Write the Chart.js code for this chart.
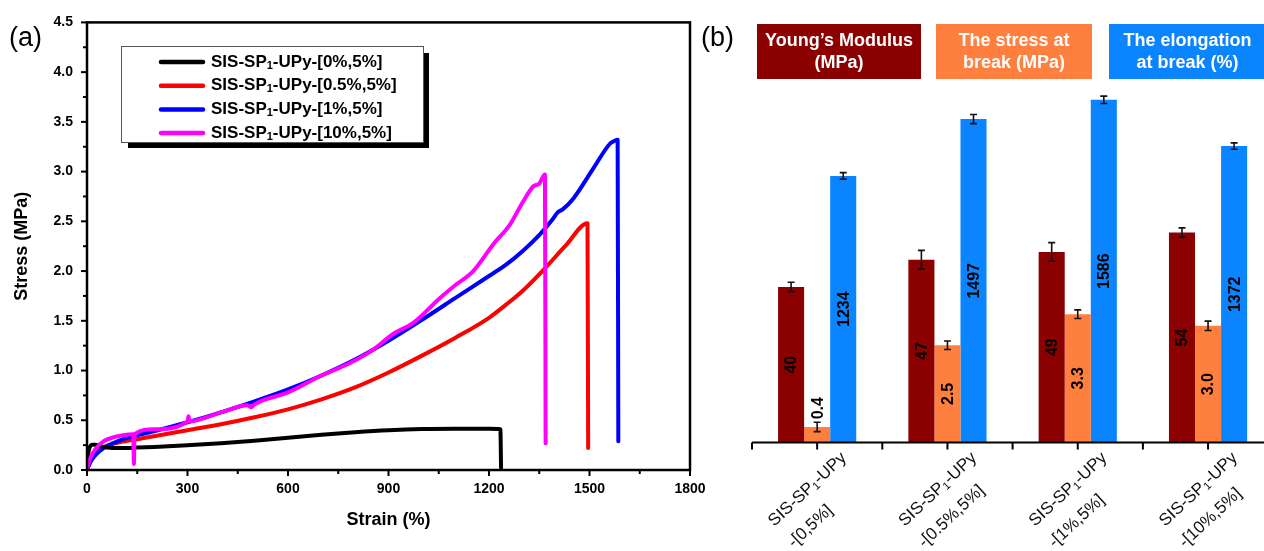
<!DOCTYPE html>
<html>
<head>
<meta charset="utf-8">
<script src="https://cdn.jsdelivr.net/npm/chart.js@4.4.1/dist/chart.umd.min.js"></script>
<style>
  html, body { margin: 0; padding: 0; background: #fff; overflow: hidden; }
  #wrap { position: relative; width: 1264px; height: 551px; overflow: hidden; }
  #chartA { position: absolute; left: 0; top: 0; }
  #chartB { position: absolute; left: 690px; top: 0; }
</style>
</head>
<body>
<div id="wrap">
  <canvas id="chartA" width="720" height="551"></canvas>
  <canvas id="chartB" width="600" height="551"></canvas>
</div>
<script>
// ---- (a) stress-strain curves ----
const strainTicks = [0, 300, 600, 900, 1200, 1500, 1800];
const stressTicks = [0, 0.5, 1.0, 1.5, 2.0, 2.5, 3.0, 3.5, 4.0, 4.5];

const strain0 = [0, 2, 5, 9, 15, 25, 40, 60, 100, 150, 200, 300, 400, 500, 600, 700, 800, 900, 1000, 1100, 1200, 1234, 1236];
const stress0 = [0, 0.10, 0.19, 0.235, 0.255, 0.255, 0.24, 0.225, 0.22, 0.225, 0.232, 0.25, 0.27, 0.295, 0.325, 0.355, 0.38, 0.40, 0.412, 0.415, 0.414, 0.41, 0.02];

const strain05 = [0, 5, 12, 25, 50, 80, 100, 150, 200, 300, 400, 500, 600, 700, 800, 900, 1000, 1100, 1200, 1250, 1300, 1362, 1430, 1494, 1496];
const stress05 = [0, 0.05, 0.11, 0.17, 0.23, 0.265, 0.28, 0.31, 0.34, 0.40, 0.46, 0.53, 0.61, 0.71, 0.83, 0.98, 1.15, 1.33, 1.53, 1.66, 1.80, 2.01, 2.26, 2.48, 0.22];

const strain1 = [0, 5, 12, 25, 50, 100, 150, 200, 300, 400, 500, 600, 700, 800, 900, 1000, 1100, 1200, 1253, 1300, 1352, 1390, 1405, 1420, 1452, 1511, 1561, 1575, 1584, 1586];
const stress1 = [0, 0.04, 0.09, 0.15, 0.22, 0.30, 0.35, 0.39, 0.48, 0.58, 0.69, 0.81, 0.95, 1.11, 1.30, 1.51, 1.73, 1.95, 2.07, 2.20, 2.37, 2.52, 2.59, 2.62, 2.73, 3.03, 3.28, 3.31, 3.32, 0.29];

const strain10 = [0, 4, 10, 25, 50, 80, 100, 138, 140, 142, 200, 300, 303, 306, 400, 480, 490, 500, 600, 700, 735, 800, 850, 915, 974, 1054, 1100, 1153, 1213, 1263, 1302, 1332, 1350, 1367, 1369];
const stress10 = [0, 0.06, 0.12, 0.21, 0.29, 0.33, 0.345, 0.36, 0.06, 0.36, 0.41, 0.49, 0.54, 0.49, 0.58, 0.65, 0.63, 0.66, 0.78, 0.95, 1.00, 1.10, 1.20, 1.37, 1.48, 1.73, 1.86, 2.00, 2.27, 2.47, 2.70, 2.85, 2.88, 2.97, 0.27];

const curveTails = ['-UPy-[0%,5%]', '-UPy-[0.5%,5%]', '-UPy-[1%,5%]', '-UPy-[10%,5%]'];
const curveColors = ['#000000', '#ff0000', '#0000ff', '#ff00ff'];

// ---- (b) mechanical properties ----
const groupTails = ['-[0,5%]', '-[0.5%,5%]', '-[1%,5%]', '-[10%,5%]'];
const youngsModulus = [40, 47, 49, 54];
const youngsErr = [1.2, 2.4, 2.4, 1.2];
const breakStress = [0.4, 2.5, 3.3, 3.0];
const breakStressErr = [0.12, 0.11, 0.11, 0.12];
const elongation = [1234, 1497, 1586, 1372];
const elongationErr = [15, 21, 17, 15];

const propTitles = [['Young\u2019s Modulus', '(MPa)'], ['The stress at', 'break (MPa)'], ['The elongation', 'at break (%)']];
const barColors = ['#8b0000', '#ff7f3f', '#0a84ff'];

const FONT = "'Liberation Sans', Arial, sans-serif";

// text with a subscript "1", e.g. SIS-SP1-UPy
function drawSubText(ctx, x, y, head, sub, tail, size, weight) {
  ctx.textAlign = 'left';
  ctx.font = weight + ' ' + size + 'px ' + FONT;
  ctx.fillText(head, x, y);
  x += ctx.measureText(head).width;
  ctx.font = weight + ' ' + Math.round(size * 0.62) + 'px ' + FONT;
  ctx.fillText(sub, x, y + size * 0.22);
  x += ctx.measureText(sub).width;
  ctx.font = weight + ' ' + size + 'px ' + FONT;
  ctx.fillText(tail, x, y);
  return x + ctx.measureText(tail).width;
}

function curve(xs, ys, color, order) {
  return {
    data: xs.map((x, i) => ({ x: x, y: ys[i] })),
    borderColor: color,
    borderWidth: 4,
    pointRadius: 0,
    fill: false,
    cubicInterpolationMode: 'monotone',
    borderJoinStyle: 'round',
    borderCapStyle: 'round',
    order: order
  };
}

/**
 * frame, minor ticks and legend of panel (a)
 */
const frameA = {
  id: 'frameA',
  afterDraw(chart) {
    const ctx = chart.ctx;
    const a = chart.chartArea;
    const xs = chart.scales.x, ys = chart.scales.y;
    ctx.save();
    ctx.strokeStyle = '#000';
    ctx.lineWidth = 2;
    for (let v = 0; v <= 1800; v += 150) {
      const px = xs.getPixelForValue(v);
      const len = v % 300 === 0 ? 6 : 4;
      ctx.beginPath(); ctx.moveTo(px, a.bottom); ctx.lineTo(px, a.bottom + len); ctx.stroke();
    }
    for (let v = 0; v <= 4.5001; v += 0.25) {
      const py = ys.getPixelForValue(v);
      const len = Math.round(v * 100) % 50 === 0 ? 6 : 4;
      ctx.beginPath(); ctx.moveTo(a.left, py); ctx.lineTo(a.left - len, py); ctx.stroke();
    }
    ctx.lineWidth = 2.5;
    ctx.strokeRect(a.left, a.top, a.right - a.left, a.bottom - a.top);

    // legend box with shadow
    ctx.fillStyle = '#000';
    ctx.fillRect(128, 53, 301, 95);
    ctx.fillStyle = '#fff';
    ctx.fillRect(121, 46, 302, 96);
    ctx.lineWidth = 1;
    ctx.strokeStyle = '#555';
    ctx.strokeRect(121.5, 46.5, 302, 96);
    ctx.lineCap = 'round';
    curveTails.forEach((t, i) => {
      const y = 62 + i * 23.7;
      ctx.strokeStyle = curveColors[i];
      ctx.lineWidth = 4.5;
      ctx.beginPath(); ctx.moveTo(161, y); ctx.lineTo(203, y); ctx.stroke();
      ctx.fillStyle = '#000';
      ctx.textBaseline = 'middle';
      drawSubText(ctx, 211, y, 'SIS-SP', '1', t, 17, 'bold');
    });

    ctx.fillStyle = '#000';
    ctx.textBaseline = 'alphabetic';
    ctx.textAlign = 'left';
    ctx.font = '27px ' + FONT;
    ctx.fillText('(a)', 9, 46);
    ctx.restore();
  }
};

const chartA = new Chart(document.getElementById('chartA'), {
  type: 'line',
  data: {
    datasets: [
      curve(strain0, stress0, curveColors[0], 1),
      curve(strain05, stress05, curveColors[1], 3),
      curve(strain1, stress1, curveColors[2], 2),
      curve(strain10, stress10, curveColors[3], 0)
    ]
  },
  options: {
    responsive: false,
    animation: false,
    devicePixelRatio: 1,
    layout: { padding: { left: 0, top: 21, right: 30, bottom: 0 } },
    plugins: { legend: { display: false }, tooltip: { enabled: false } },
    scales: {
      x: {
        type: 'linear', min: 0, max: 1800,
        afterBuildTicks: s => { s.ticks = strainTicks.map(v => ({ value: v })); },
        afterFit: s => { s.height = 81; },
        grid: { display: false, drawTicks: false },
        border: { display: false },
        ticks: { color: '#000', padding: 11, autoSkip: false, maxRotation: 0, callback: v => String(v),
                 font: { family: FONT, size: 14, weight: 'bold' } },
        title: { display: true, text: 'Strain (%)', color: '#000',
                 font: { family: FONT, size: 18, weight: 'bold' }, padding: { top: 0, bottom: 20 } }
      },
      y: {
        type: 'linear', min: 0, max: 4.5,
        afterBuildTicks: s => { s.ticks = stressTicks.map(v => ({ value: v })); },
        afterFit: s => { s.width = 87; },
        grid: { display: false, drawTicks: false },
        border: { display: false },
        ticks: { color: '#000', padding: 14, callback: v => v.toFixed(1),
                 font: { family: FONT, size: 14, weight: 'bold' } },
        title: { display: true, text: 'Stress (MPa)', color: '#000',
                 font: { family: FONT, size: 18, weight: 'bold' }, padding: { top: 11, bottom: 0 } }
      }
    }
  },
  plugins: [frameA]
});

/**
 * axis, error bars, value labels, category labels and header boxes of panel (b)
 */
const annotB = {
  id: 'annotB',
  afterDatasetsDraw(chart) {
    const ctx = chart.ctx;
    const a = chart.chartArea;
    const xs = chart.scales.x;
    const catW = xs.width / groupTails.length;
    ctx.save();

    // x axis line and ticks
    ctx.strokeStyle = '#000';
    ctx.lineWidth = 2;
    ctx.beginPath(); ctx.moveTo(a.left, a.bottom); ctx.lineTo(chart.width, a.bottom); ctx.stroke();
    groupTails.forEach((t, i) => {
      const cx = xs.getPixelForValue(i);
      [cx - catW / 2, cx].forEach(px => {
        ctx.beginPath(); ctx.moveTo(px, a.bottom); ctx.lineTo(px, a.bottom + 7); ctx.stroke();
      });
    });

    // error bars and value labels
    chart.data.datasets.forEach((ds, di) => {
      const meta = chart.getDatasetMeta(di);
      const ys = chart.scales[ds.yAxisID];
      meta.data.forEach((el, i) => {
        const v = ds.data[i], e = ds.errors[i];
        const yHi = ys.getPixelForValue(v + e), yLo = ys.getPixelForValue(v - e);
        ctx.strokeStyle = '#111';
        ctx.lineWidth = 1.6;
        ctx.beginPath();
        ctx.moveTo(el.x, yHi); ctx.lineTo(el.x, yLo);
        ctx.moveTo(el.x - 3.5, yHi); ctx.lineTo(el.x + 3.5, yHi);
        ctx.moveTo(el.x - 3.5, yLo); ctx.lineTo(el.x + 3.5, yLo);
        ctx.stroke();

        const txt = v.toFixed(ds.digits);
        ctx.font = 'bold 16px ' + FONT;
        const w = ctx.measureText(txt).width;
        let cy = (el.y + el.base) / 2;
        if (el.base - el.y < w + 10) cy = yHi - 3 - w / 2;
        ctx.save();
        ctx.translate(el.x, cy);
        ctx.rotate(-Math.PI / 2);
        ctx.fillStyle = '#000';
        ctx.textAlign = 'center';
        ctx.textBaseline = 'middle';
        ctx.fillText(txt, 0, 1);
        ctx.restore();
      });
    });

    // rotated category labels
    const ang = 43 * Math.PI / 180;
    groupTails.forEach((t, i) => {
      const cx = xs.getPixelForValue(i);
      ctx.save();
      ctx.translate(cx - 46, a.bottom + 81);
      ctx.rotate(-ang);
      ctx.fillStyle = '#111';
      ctx.textBaseline = 'middle';
      drawSubText(ctx, 0, 0, 'SIS-SP', '1', '-UPy', 17, 'normal');
      ctx.font = '17px ' + FONT;
      ctx.textAlign = 'left';
      ctx.fillText(t, 0, 29);
      ctx.restore();
    });

    // header boxes
    const boxes = [[67, 164], [246, 156], [419, 157]];
    boxes.forEach((b, i) => {
      ctx.fillStyle = barColors[i];
      ctx.fillRect(b[0], 24, b[1], 55);
      ctx.fillStyle = '#fff';
      ctx.font = 'bold 18px ' + FONT;
      ctx.textAlign = 'center';
      ctx.textBaseline = 'middle';
      ctx.fillText(propTitles[i][0], b[0] + b[1] / 2, 41);
      ctx.fillText(propTitles[i][1], b[0] + b[1] / 2, 63);
    });

    ctx.fillStyle = '#000';
    ctx.textAlign = 'left';
    ctx.textBaseline = 'alphabetic';
    ctx.font = '27px ' + FONT;
    ctx.fillText('(b)', 11, 46);
    ctx.restore();
  }
};

const chartB = new Chart(document.getElementById('chartB'), {
  type: 'bar',
  data: {
    labels: groupTails,
    datasets: [
      { label: 'Young\u2019s Modulus (MPa)', data: youngsModulus, errors: youngsErr, digits: 0,
        backgroundColor: barColors[0], yAxisID: 'yM' },
      { label: 'The stress at break (MPa)', data: breakStress, errors: breakStressErr, digits: 1,
        backgroundColor: barColors[1], yAxisID: 'yS' },
      { label: 'The elongation at break (%)', data: elongation, errors: elongationErr, digits: 0,
        backgroundColor: barColors[2], yAxisID: 'yE' }
    ]
  },
  options: {
    responsive: false,
    animation: false,
    devicePixelRatio: 1,
    layout: { padding: { left: 62, right: 16.8, top: 92.5, bottom: 0 } },
    datasets: { bar: { categoryPercentage: 0.6, barPercentage: 1.0 } },
    plugins: { legend: { display: false }, tooltip: { enabled: false } },
    scales: {
      x: {
        afterFit: s => { s.height = 108.5; },
        grid: { display: false, drawTicks: false },
        border: { display: false },
        ticks: { display: false }
      },
      yM: { display: false, min: 0, max: 90 },
      yS: { display: false, min: 0, max: 9 },
      yE: { display: false, min: 0, max: 1620 }
    }
  },
  plugins: [annotB]
});
</script>
</body>
</html>
